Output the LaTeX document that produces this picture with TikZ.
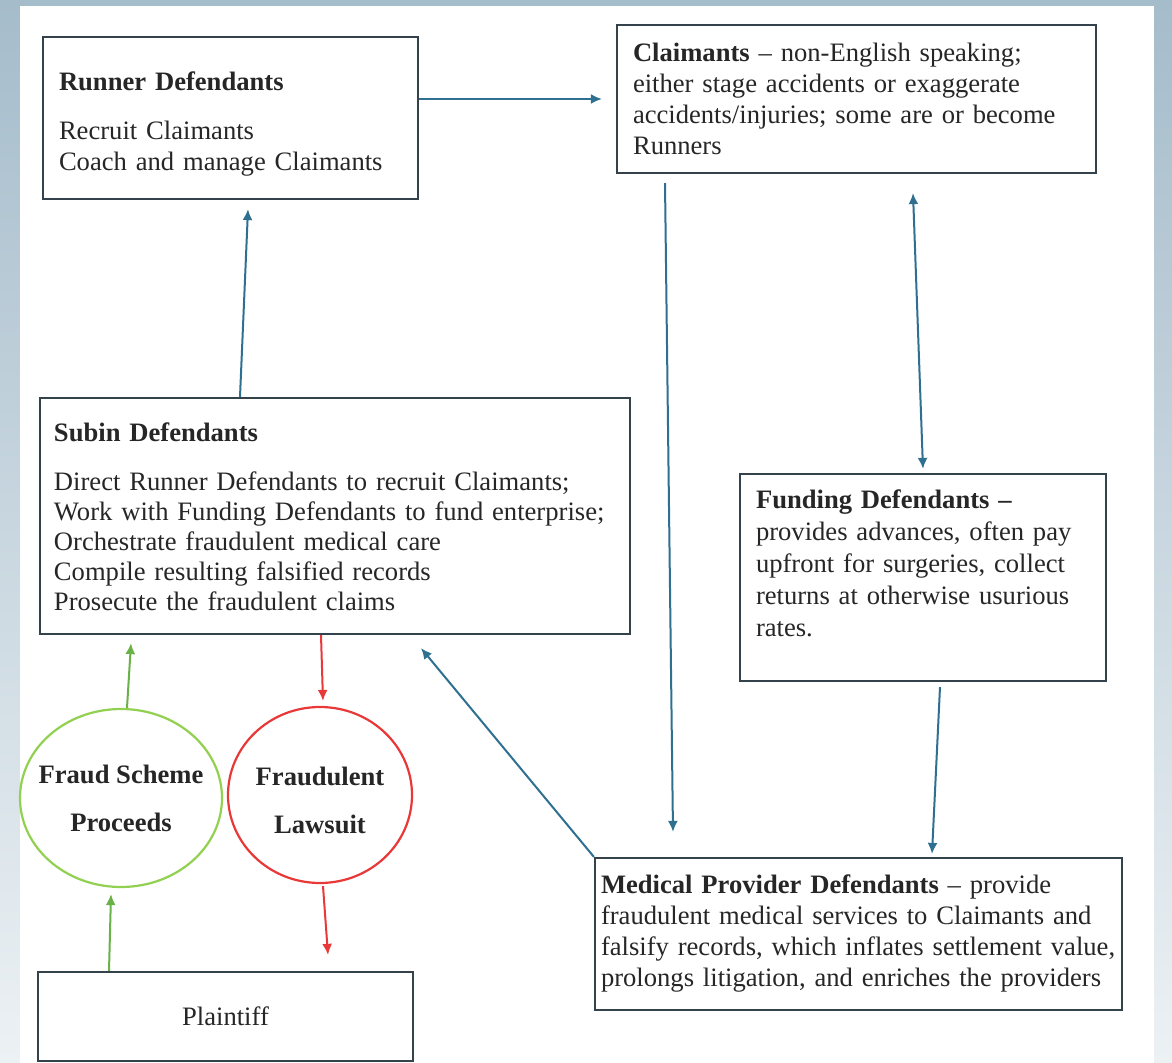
\documentclass[tikz,border=0pt]{standalone}
\usepackage{fontspec}
\setmainfont{Liberation Serif}
\usepackage{xcolor}
\usepackage{tikz}
\usetikzlibrary{arrows.meta, positioning, shapes.geometric}

\definecolor{boxline}{RGB}{52,66,76}
\definecolor{flowblue}{RGB}{47,112,145}
\definecolor{gainsgreen}{RGB}{146,208,80}
\definecolor{arrowgreen}{RGB}{104,178,72}
\definecolor{suitred}{RGB}{232,56,56}
\definecolor{bgtop}{RGB}{165,188,203}
\definecolor{bgbottom}{RGB}{236,241,244}

\begin{document}
\begin{tikzpicture}[x=0.5pt, y=-0.5pt, >={Latex[length=5.5pt,width=5pt]},
    box/.style={draw=boxline, line width=1.1pt, rectangle, align=left, inner xsep=8pt, inner ysep=0pt,
        font=\fontsize{13.3}{15.5}\selectfont, text=black!85},
    blob/.style={ellipse, line width=1.1pt, inner xsep=-8pt, inner ysep=0pt, align=center,
        font=\fontsize{13.3}{15.5}\selectfont\bfseries, text=black!85},
    flow/.style={->, draw=flowblue, line width=1pt},
    gain/.style={->, draw=arrowgreen, line width=1pt},
    suit/.style={->, draw=suitred, line width=1pt}]

    \useasboundingbox (0,0) rectangle (1172,1063);
    \shade[top color=bgtop, bottom color=bgbottom] (0,0) rectangle (1172,1063);
    \fill[white] (20,6) rectangle (1154,1063);

    \node[box, text width=171.5pt, minimum height=81pt] (runner) at (230.5,118)
        {\rule{0pt}{15pt}\textbf{Runner Defendants}\\[9pt] Recruit Claimants\\ Coach and manage Claimants};
    \node[box, text width=223.5pt, minimum height=74pt] (claim) at (856.5,99)
        {\textbf{Claimants} – non-English speaking;\\ either stage accidents or exaggerate\\
         accidents/injuries; some are or become\\ Runners};
    \node[box, font=\fontsize{13.3}{15}\selectfont, inner xsep=7pt, text width=281pt, minimum height=118pt] (subin) at (335,516)
        {\rule{0pt}{10pt}\textbf{Subin Defendants}\\[9.5pt] Direct Runner Defendants to recruit Claimants;\\
         Work with Funding Defendants to fund enterprise;\\ Orchestrate fraudulent medical care\\
         Compile resulting falsified records\\ Prosecute the fraudulent claims};
    \node[box, font=\fontsize{13.3}{16}\selectfont, text width=167pt, minimum height=103.5pt] (fund) at (923,577.5)
        {\textbf{Funding Defendants –}\\ provides advances, often pay\\ upfront for surgeries, collect\\
         returns at otherwise usurious\\ rates.\rule[-14pt]{0pt}{1pt}};
    \node[box, inner xsep=3pt, text width=257.5pt, minimum height=76pt] (med) at (858.5,934)
        {\textbf{Medical Provider Defendants} – provide\\ fraudulent medical services to Claimants and\\
         falsify records, which inflates settlement value,\\ prolongs litigation, and enriches the providers};
    \node[box, minimum width=187.5pt, minimum height=44.5pt] (plaintiff) at (225.5,1016.5) {Plaintiff};

    \node[blob, draw=gainsgreen, minimum width=101pt, minimum height=89pt] (proceeds) at (121,798)
        {Fraud Scheme\\[8.5pt] Proceeds};
    \node[blob, draw=suitred, minimum width=92pt, minimum height=88pt] (lawsuit) at (320,795)
        {\rule{0pt}{14.5pt}Fraudulent\\[8.5pt] Lawsuit};

    \draw[flow] (runner.east |- claim.west) -- ([xshift=-7pt]claim.west);
    \draw[flow] ([xshift=-47.5pt]subin.north) -- ([xshift=8.75pt,yshift=-4.5pt]runner.south);
    \draw[flow] ([xshift=-95.75pt,yshift=-4.5pt]claim.south) -- ([xshift=-92.75pt,yshift=12.5pt]med.north);
    \draw[flow, <->] ([xshift=28.25pt,yshift=-9.5pt]claim.south) -- ([yshift=2pt]fund.north);
    \draw[flow] ([xshift=8.5pt,yshift=-2.5pt]fund.south) -- ([xshift=36.75pt,yshift=1.5pt]med.north);
    \draw[flow] (med.north west) -- ([xshift=43pt,yshift=-6.5pt]subin.south);

    \draw[gain] ([xshift=3pt]proceeds.north) -- ([xshift=-102pt,yshift=-4pt]subin.south);
    \draw[suit] ([xshift=-7pt]subin.south) -- ([xshift=1.5pt,yshift=2.5pt]lawsuit.north);
    \draw[gain] ([xshift=-58.25pt]plaintiff.north) -- ([xshift=-5pt,yshift=-3pt]proceeds.south);
    \draw[suit] ([xshift=1.5pt,yshift=-1pt]lawsuit.south) -- ([xshift=51.25pt,yshift=8pt]plaintiff.north);

\end{tikzpicture}
\end{document}
